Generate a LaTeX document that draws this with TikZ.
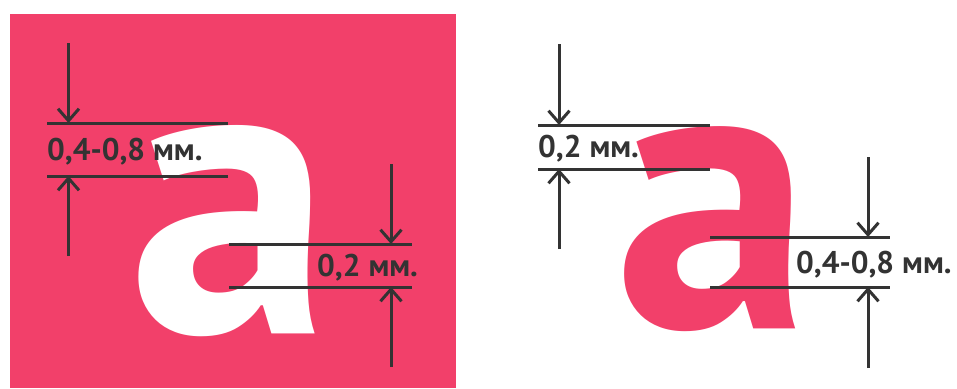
\documentclass[tikz,border=0pt]{standalone}
\usepackage{fontspec}
\setmainfont{PT Sans}
\usetikzlibrary{arrows.meta}
\definecolor{rosa}{HTML}{F2406A}
\definecolor{ink}{HTML}{333333}

\begin{document}
\begin{tikzpicture}[x=1pt, y=-1pt,
		rule/.style={ink, line width=3pt},
		pointer/.style={ink, line width=3pt, -{Straight Barb[length=12pt, width=21pt, line width=3pt]}},
		size/.style={ink, font=\bfseries\fontsize{31.3}{31.3}\selectfont, inner sep=0pt, anchor=base west},
		glyph/.style={inner sep=0pt, anchor=base}]
		\useasboundingbox (0,0) rectangle (957,388);
		\fill[rosa] (10,14) rectangle (456,388);

		\draw 
		(231,333) node [glyph, white, font=\bfseries\fontsize{408}{408}\selectfont] (bigA) {а}
		(714,328) node [glyph, rosa, font=\bfseries\fontsize{396}{396}\selectfont] (bigB) {а};

		\draw 
		(47,123) coordinate (thinTopL) (228,123) coordinate (thinTopR)
		(47,176) coordinate (thinBotL) (228,176) coordinate (thinBotR)
		(68.5,43) coordinate (thinDown) (68.5,256) coordinate (thinUp)
		(47,160) node [size] (thinLabel) {0,4-0,8 мм.};
		\draw[rule] (thinTopL) -- (thinTopR);
		\draw[rule] (thinBotL) -- (thinBotR);
		\draw[pointer] (thinDown) -- (thinDown |- thinTopL);
		\draw[pointer] (thinUp) -- (thinUp |- thinBotL);

		\draw 
		(229,244) coordinate (gapTopL) (412,244) coordinate (gapTopR)
		(229,287) coordinate (gapBotL) (412,287) coordinate (gapBotR)
		(391,164) coordinate (gapDown) (391,367) coordinate (gapUp)
		(317,276) node [size] (gapLabel) {0,2 мм.};
		\draw[rule] (gapTopL) -- (gapTopR);
		\draw[rule] (gapBotL) -- (gapBotR);
		\draw[pointer] (gapDown) -- (gapDown |- gapTopL);
		\draw[pointer] (gapUp) -- (gapUp |- gapBotL);

		\draw 
		(538,125) coordinate (spurTopL) (710,125) coordinate (spurTopR)
		(538,169) coordinate (spurBotL) (710,169) coordinate (spurBotR)
		(559,44) coordinate (spurDown) (559,249) coordinate (spurUp)
		(538,157) node [size] (spurLabel) {0,2 мм.};
		\draw[rule] (spurTopL) -- (spurTopR);
		\draw[rule] (spurBotL) -- (spurBotR);
		\draw[pointer] (spurDown) -- (spurDown |- spurTopL);
		\draw[pointer] (spurUp) -- (spurUp |- spurBotL);

		\draw 
		(710,237) coordinate (bowlTopL) (890,237) coordinate (bowlTopR)
		(710,287) coordinate (bowlBotL) (890,287) coordinate (bowlBotR)
		(868,157) coordinate (bowlDown) (868,368) coordinate (bowlUp)
		(796,273) node [size] (bowlLabel) {0,4-0,8 мм.};
		\draw[rule] (bowlTopL) -- (bowlTopR);
		\draw[rule] (bowlBotL) -- (bowlBotR);
		\draw[pointer] (bowlDown) -- (bowlDown |- bowlTopL);
		\draw[pointer] (bowlUp) -- (bowlUp |- bowlBotL);
	\end{tikzpicture}
\end{document}
